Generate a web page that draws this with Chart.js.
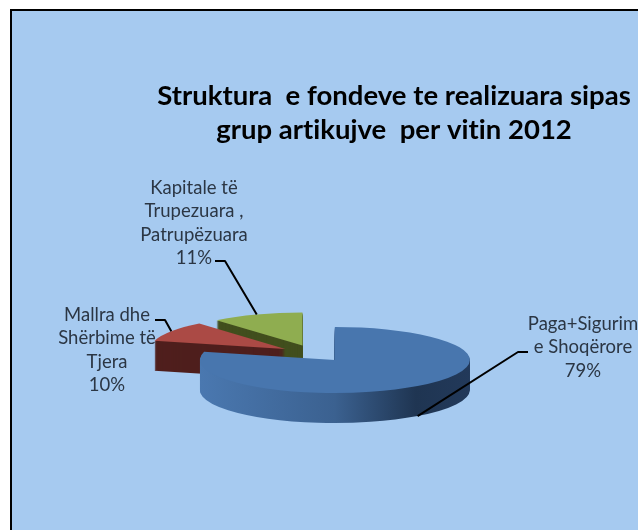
<!DOCTYPE html>
<html><head><meta charset="utf-8">
<style>
html,body{margin:0;padding:0;background:#fff;overflow:hidden;width:638px;height:530px}
#panel{position:absolute;left:10px;top:9px;width:700px;height:600px;border:2px solid #000;background:#a6caf0}
#c{position:absolute;left:0;top:0}
</style>
<script src="https://cdn.jsdelivr.net/npm/chart.js@4"></script>
</head><body>
<div id="panel"></div>
<canvas id="c" width="638" height="530"></canvas>
<script>
const titleLines = ['Struktura  e fondeve te realizuara sipas', 'grup artikujve  per vitin 2012'];
const categories = ['Paga+Sigurime Shoqërore', 'Mallra dhe Shërbime të Tjera', 'Kapitale të Trupezuara , Patrupëzuara'];
const values = [79, 10, 11];
const labelLines = [['Paga+Sigurim', 'e Shoqërore'], ['Mallra dhe', 'Shërbime të', 'Tjera'], ['Kapitale të', 'Trupezuara ,', 'Patrupëzuara']];
const topColors = ['#4876ae', '#ab4a45', '#8fad50'];
const sideColors = [null, '#4f1f1d', '#424f1e'];
const paintOrder = [2, 1, 0];

const pie = {cx: 314, cy: 353.4, rx: 135, ry: 33, depth: 30, explode: 34};
const labelLayout = [
  {x: 583, y: 324, elbow: [[518, 352], [528, 352]], onBase: true},
  {x: 107, y: 315, elbow: [[165, 320], [155, 320]], onBase: false},
  {x: 194, y: 188, elbow: [[225, 261], [215, 261]], onBase: false}
];
const lineGap = 23.3;

function arcCentre(arc) {
  const mid = (arc.startAngle + arc.endAngle) / 2;
  return {
    mid,
    x: pie.cx + Math.cos(mid) * pie.explode,
    y: pie.cy + Math.sin(mid) * pie.explode * pie.ry / pie.rx
  };
}
function place(ctx, arc, dy) {
  const c = arcCentre(arc), k = pie.rx / arc.outerRadius;
  ctx.setTransform(k, 0, 0, k * pie.ry / pie.rx, c.x, c.y + dy);
  ctx.translate(-arc.x, -arc.y);
}
function paintAs(ctx, arc, fill) {
  const ghost = Object.create(arc);
  ghost.options = {backgroundColor: fill, borderColor: fill, borderWidth: 0, borderAlign: 'center',
    borderJoinStyle: 'round', borderRadius: 0, spacing: 0, offset: 0, circular: true, selfJoin: false};
  ghost.draw(ctx);
}

const pie3d = {
  id: 'pie3d',
  beforeDraw(chart) {
    chart.ctx.letterSpacing = '0.01px';
  },
  beforeDatasetDraw(chart) {
    const ctx = chart.ctx, arcs = chart.getDatasetMeta(0).data;
    ctx.save();
    paintOrder.forEach(i => {
      const arc = arcs[i];
      let side = sideColors[i];
      if (!side) {
        side = ctx.createLinearGradient(arc.x - arc.outerRadius, 0, arc.x + arc.outerRadius, 0);
        side.addColorStop(0, '#4a78b0');
        side.addColorStop(0.5, '#3b6190');
        side.addColorStop(0.8, '#1f3552');
        side.addColorStop(1, '#22395a');
      }
      for (let d = pie.depth; d > 0; d--) {
        place(ctx, arc, d);
        paintAs(ctx, arc, side);
      }
      place(ctx, arc, 0);
      paintAs(ctx, arc, topColors[i]);
    });
    ctx.restore();
    return false;
  },
  afterDatasetsDraw(chart) {
    const ctx = chart.ctx, arcs = chart.getDatasetMeta(0).data;
    ctx.save();
    ctx.strokeStyle = '#000';
    ctx.lineWidth = 2;
    ctx.lineJoin = 'round';
    arcs.forEach((arc, i) => {
      const c = arcCentre(arc), l = labelLayout[i];
      const ax = c.x + Math.cos(c.mid) * pie.rx;
      const ay = c.y + Math.sin(c.mid) * pie.ry + (l.onBase ? pie.depth : 0);
      ctx.beginPath();
      ctx.moveTo(ax, ay);
      l.elbow.forEach(p => ctx.lineTo(p[0], p[1]));
      ctx.stroke();
      ctx.font = '18.5px Lato';
      ctx.fillStyle = '#2b3644';
      ctx.textAlign = 'center';
      ctx.textBaseline = 'middle';
      labelLines[i].concat([values[i] + '%']).forEach((t, n) => ctx.fillText(t, l.x, l.y + n * lineGap));
    });
    ctx.restore();
  }
};

new Chart(document.getElementById('c'), {
  type: 'pie',
  data: {labels: categories, datasets: [{data: values, backgroundColor: topColors, borderWidth: 0}]},
  options: {
    responsive: false,
    animation: false,
    layout: {padding: {left: 150}},
    plugins: {
      legend: {display: false},
      tooltip: {enabled: false},
      title: {display: true, text: titleLines, color: '#000', padding: {top: 79, bottom: 4},
        font: {family: 'Lato', weight: 'bold', size: 27.5, lineHeight: 1.25}}
    }
  },
  plugins: [pie3d]
});
</script>
</body></html>
